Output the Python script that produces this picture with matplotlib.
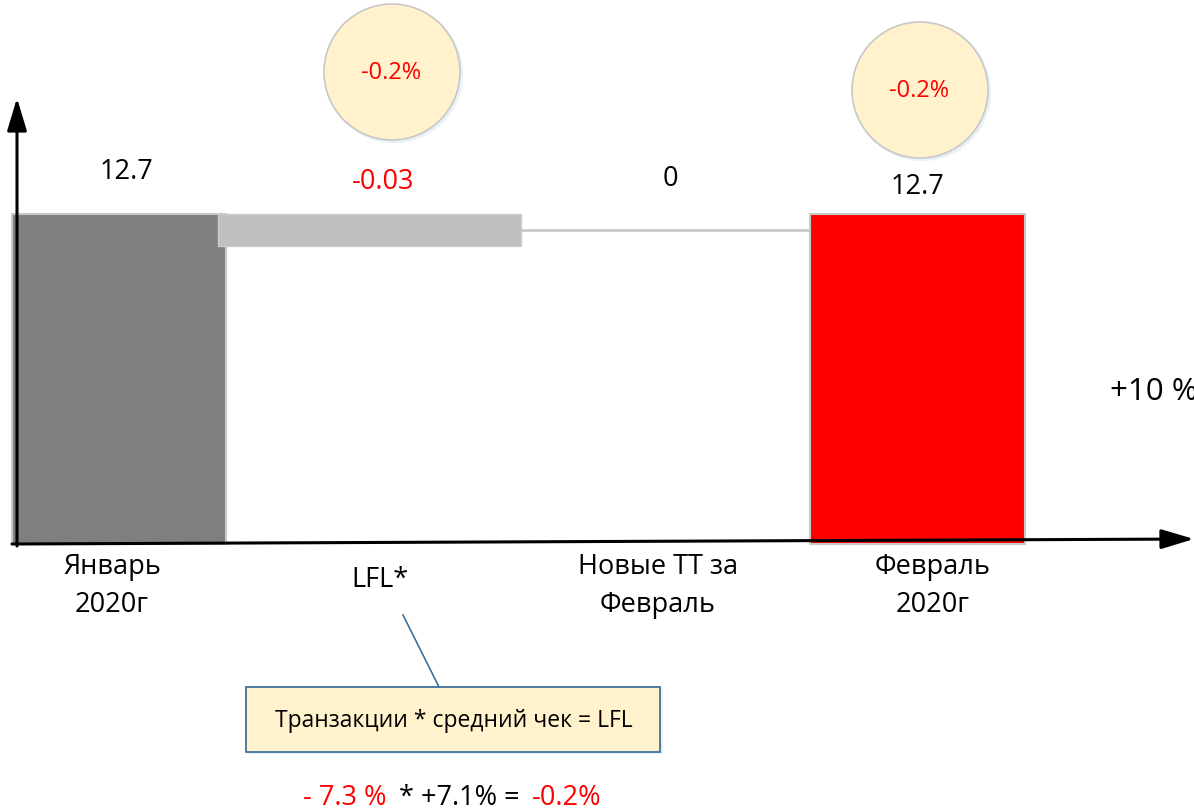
import matplotlib
matplotlib.use("Agg")
import matplotlib.pyplot as plt
from matplotlib.patches import Ellipse, Rectangle, FancyArrowPatch

# ---------------- data ----------------
categories = ["Январь\n2020г", "LFL*", "Новые ТТ за\nФевраль", "Февраль\n2020г"]
jan_value = 12.7
lfl_delta = -0.03
new_tt_delta = 0.0
feb_value = 12.7
value_labels = ["12.7", "-0.03", "0", "12.7"]
value_colors = ["black", "red", "black", "black"]
circle_labels = ["-0.2%", "-0.2%"]
growth_label = "+10 %"
callout_text = "Транзакции * средний чек = LFL"
formula_parts = ["- 7.3 %", "* +7.1% =", "-0.2%"]
formula_colors = ["red", "black", "red"]
axis_min = 12.39   # truncated value axis minimum

W, H = 1194, 812
plt.rcParams['font.family'] = ['Open Sans', 'DejaVu Sans']
fig = plt.figure(figsize=(W / 100, H / 100), dpi=100)
fig.patch.set_facecolor("white")

def fx(x):
    return x / W

def fy(y):
    return 1 - y / H

# axes mapping: x pixel = 119 + 267*i ; y: axis_min at px 545, 12.7 at px 215
ax = fig.add_axes([0, 0, 1, 1])
ppu = 330 / (jan_value - axis_min)
ax.set_xlim((0 - 119) / 267, (W - 119) / 267)
ax.set_ylim(axis_min - (H - 545) / ppu, axis_min + 545 / ppu)
ax.axis("off")

# January bar
ax.bar(0, jan_value - axis_min, bottom=axis_min, width=214 / 267,
       color="#7F7F7F", edgecolor="#C9C9C9", linewidth=1.5, zorder=2)
# LFL floating bar
lfl_left = (218 - 119) / 267
lfl_width = (521 - 218) / 267
ax.bar(lfl_left, -lfl_delta, bottom=jan_value + lfl_delta, width=lfl_width,
       align="edge", color="#BFBFBF", edgecolor="#C8CCD2", linewidth=1.0, zorder=3)
# February bar
feb_x = 3 - 2.5 / 267
feb_w = 215 / 267
# connector through New TT (zero change)
level = jan_value + lfl_delta / 2 + new_tt_delta
ax.plot([lfl_left + lfl_width, feb_x - feb_w / 2], [level, level],
        color="#C3C3C3", linewidth=1.8, zorder=1)
ax.bar(feb_x, feb_value - axis_min, bottom=axis_min, width=feb_w,
       color="#FF0000", edgecolor="#C9C9C9", linewidth=1.5, zorder=2)

# value labels
label_px = [(126, 172), (383, 182), (670, 179), (917, 187)]
for (px, py), t, c in zip(label_px, value_labels, value_colors):
    fig.text(fx(px), fy(py), t, color=c, fontsize=19.5, ha="center", va="center")

# category labels
cat_px = [112, 380, 658, 933]
for i, (cx, lab) in enumerate(zip(cat_px, categories)):
    if "\n" in lab:
        fig.text(fx(cx), fy(586), lab, fontsize=19.5, ha="center", va="center",
                 linespacing=1.45)
    else:
        fig.text(fx(cx), fy(580), lab, fontsize=19.5, ha="center", va="center")

# axis arrows
arrow_style = "-|>,head_length=20,head_width=6"
fig.patches.append(FancyArrowPatch((fx(17), fy(547)), (fx(17), fy(99)),
                                   transform=fig.transFigure, arrowstyle=arrow_style,
                                   mutation_scale=1, color="black", linewidth=2.2,
                                   shrinkA=0, shrinkB=0))
fig.patches.append(FancyArrowPatch((fx(12), fy(545)), (fx(1194), fy(540)),
                                   transform=fig.transFigure, arrowstyle=arrow_style,
                                   mutation_scale=1, color="black", linewidth=2.2,
                                   shrinkA=0, shrinkB=0))

# circles
for (cx, cy), t in zip([(392, 73), (920, 91)], circle_labels):
    fig.patches.append(Ellipse((fx(cx + 2), fy(cy + 2)), 138 / W, 138 / H,
                               transform=fig.transFigure, facecolor="#DCE6F2",
                               edgecolor="none", alpha=0.6, zorder=1))
    fig.patches.append(Ellipse((fx(cx), fy(cy)), 136 / W, 136 / H,
                               transform=fig.transFigure, facecolor="#FFF2CC",
                               edgecolor="#C8C8C8", linewidth=1.2, zorder=2))
    fig.text(fx(cx - 1), fy(cy), t, color="red", fontsize=17, ha="center", va="center",
             zorder=3)

# growth label
fig.text(fx(1110), fy(392), growth_label, fontsize=22.5, ha="left", va="center")

# callout
fig.lines.append(plt.Line2D([fx(403), fx(440)], [fy(616), fy(690)],
                            transform=fig.transFigure, color="#41719C", linewidth=1.2))
fig.patches.append(Rectangle((fx(249), fy(755)), 414 / W, 65 / H,
                             transform=fig.transFigure, facecolor="#DCE6F2",
                             edgecolor="none", alpha=0.6, zorder=1))
fig.patches.append(Rectangle((fx(246), fy(753)), 414 / W, 65 / H,
                             transform=fig.transFigure, facecolor="#FFF2CC",
                             edgecolor="#41719C", linewidth=1.3, zorder=2))
fig.text(fx(454), fy(721), callout_text, fontsize=16.5, ha="center", va="center", zorder=3)

# formula
form_px = [303, 399, 532]
for x0, t, c in zip(form_px, formula_parts, formula_colors):
    fig.text(fx(x0), fy(798), t, color=c, fontsize=19.5, ha="left", va="center")

fig.savefig("out.png", dpi=100, facecolor="white")
